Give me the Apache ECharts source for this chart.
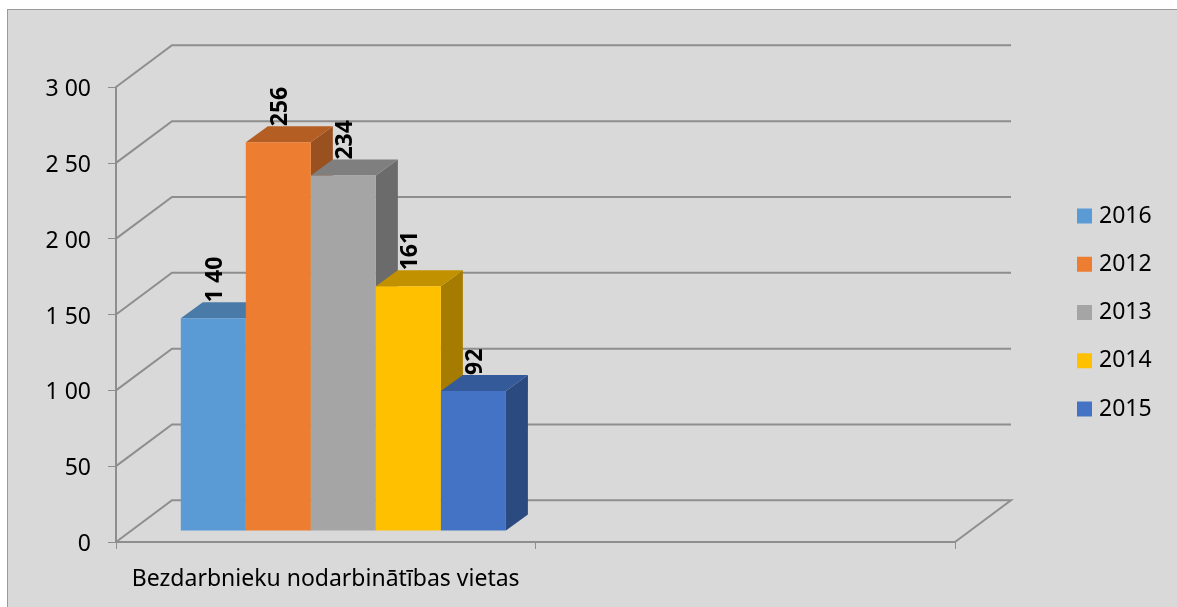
<!DOCTYPE html>
<html>
<head>
<meta charset="utf-8">
<script src="https://cdn.jsdelivr.net/npm/echarts@6/dist/echarts.min.js"></script>
<style>
    html, body { margin: 0; padding: 0; background: #fff; overflow: hidden; }
    #panel { position: absolute; left: 7px; top: 9px; right: 0; bottom: 0; background: #d9d9d9; border-left: 1px solid #9a9a9a; border-top: 1px solid #9a9a9a; }
    #chart { position: absolute; left: 0; top: 0; width: 1177px; height: 607px; }
</style>
</head>
<body>
<div id="panel"></div>
<div id="chart"></div>
<script>
    const categories = ['Bezdarbnieku nodarbinātības vietas', ''];
    const years = ['2016', '2012', '2013', '2014', '2015'];
    const values = [140, 256, 234, 161, 92];
    const valueLabels = ['1 40', '256', '234', '161', '92'];
    const tickValues = [0, 50, 100, 150, 200, 250, 300];
    const tickLabels = ['0', '50', '1 00', '1 50', '2 00', '2 50', '3 00'];

    const frontColors = ['#5b9bd5', '#ed7d31', '#a5a5a5', '#ffc000', '#4472c4'];
    const topColors = ['#4a7ba8', '#b55e24', '#7f7f7f', '#c29100', '#345a9a'];
    const sideColors = ['#3e6a92', '#9a5120', '#6b6b6b', '#a67c00', '#2b4a80'];

    const gridColor = '#8e8e8e';
    const fontName = '"Noto Sans", "Open Sans", sans-serif';
    // 3d look: offset of the back wall, and where the bars stand inside the box
    const wallDx = 56, wallDy = -41.7;
    const barDx = 16, barDy = -11.5;
    const depthDx = 22, depthDy = -16;
    const barShare = 0.155;

    function renderWall(params, api) {
        const val = api.value(1);
        const bandW = api.size([1, 0])[0];
        const p = api.coord([0, val]);
        const left = p[0] - bandW / 2;
        const right = left + bandW * categories.length;
        const points = [[left, p[1]], [left + wallDx, p[1] + wallDy], [right + wallDx, p[1] + wallDy]];
        if (val === 0) points.push([right, p[1]]);
        return {
            type: 'polyline',
            shape: { points: points },
            style: { fill: 'none', stroke: gridColor, lineWidth: 2 }
        };
    }

    function makeBarRenderer(idx) {
        return function (params, api) {
            const bandW = api.size([1, 0])[0];
            const w = bandW * barShare;
            const base = api.coord([api.value(0), 0]);
            const head = api.coord([api.value(0), api.value(1)]);
            const x0 = base[0] + barDx + 1.6 + (idx - years.length / 2) * w;
            const x1 = x0 + w;
            const y0 = base[1] + barDy;
            const y1 = head[1] + barDy;
            return {
                type: 'group',
                children: [
                    {
                        type: 'polygon',
                        shape: { points: [[x1, y1], [x1 + depthDx, y1 + depthDy], [x1 + depthDx, y0 + depthDy], [x1, y0]] },
                        style: { fill: sideColors[idx] }
                    },
                    {
                        type: 'polygon',
                        shape: { points: [[x0, y1], [x0 + depthDx, y1 + depthDy], [x1 + depthDx, y1 + depthDy], [x1, y1]] },
                        style: { fill: topColors[idx] }
                    },
                    {
                        type: 'rect',
                        shape: { x: x0, y: y1, width: w, height: y0 - y1 },
                        style: { fill: frontColors[idx] }
                    },
                    {
                        type: 'text',
                        x: (x0 + x1) / 2 + 2,
                        y: y1 + depthDy,
                        rotation: Math.PI / 2,
                        style: {
                            text: valueLabels[idx],
                            align: 'left',
                            verticalAlign: 'middle',
                            fill: '#000',
                            font: 'bold 23px ' + fontName
                        }
                    }
                ]
            };
        };
    }

    const series = [{
        name: 'wall',
        type: 'custom',
        z: 1,
        silent: true,
        renderItem: renderWall,
        encode: { x: 0, y: 1 },
        data: tickValues.map(v => [0, v])
    }];
    years.forEach((year, i) => {
        series.push({
            name: year,
            type: 'custom',
            z: 2 + i,
            itemStyle: { color: frontColors[i] },
            renderItem: makeBarRenderer(i),
            encode: { x: 0, y: 1 },
            data: [[0, values[i]]]
        });
    });

    const chart = echarts.init(document.getElementById('chart'));
    chart.setOption({
        animation: false,
        backgroundColor: 'transparent',
        grid: { left: 116, top: 87, width: 839, height: 455, containLabel: false },
        legend: {
            data: years,
            orient: 'vertical',
            left: 1077,
            top: 202,
            padding: 0,
            icon: 'rect',
            itemWidth: 15,
            itemHeight: 15,
            itemGap: 20.25,
            textStyle: { color: '#000', fontSize: 23, fontFamily: fontName, lineHeight: 28, padding: [0, 0, 0, 2] }
        },
        xAxis: {
            type: 'category',
            data: categories,
            axisLine: { lineStyle: { color: gridColor, width: 2 } },
            axisTick: { show: true, interval: 0, alignWithLabel: false, length: 7, lineStyle: { color: gridColor, width: 1 } },
            axisLabel: { color: '#000', fontSize: 23, fontFamily: fontName, margin: 26, interval: 0 }
        },
        yAxis: {
            type: 'value',
            min: 0,
            max: 300,
            interval: 50,
            splitLine: { show: false },
            axisLine: { show: true, lineStyle: { color: gridColor, width: 2 } },
            axisTick: { show: true, length: 8, lineStyle: { color: gridColor, width: 1 } },
            axisLabel: {
                color: '#000',
                fontSize: 23,
                fontFamily: fontName,
                margin: 25,
                verticalAlign: 'top',
                lineHeight: 5,
                formatter: v => tickLabels[tickValues.indexOf(v)]
            }
        },
        series: series
    });
</script>
</body>
</html>
